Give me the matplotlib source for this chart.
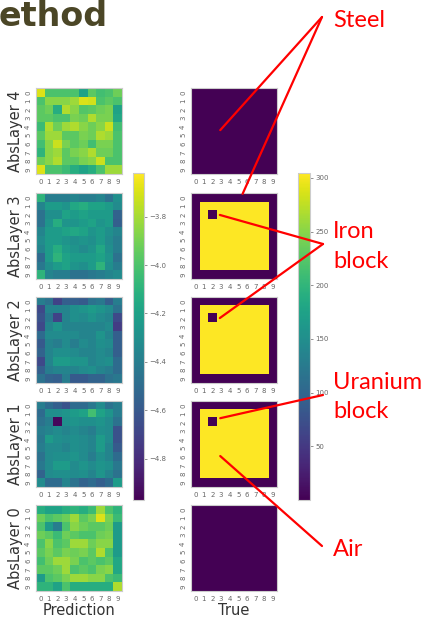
import matplotlib
matplotlib.use("Agg")
from matplotlib import pyplot as plt
from matplotlib.patches import ConnectionPatch
import numpy as np

W, H = 427, 617

layer_names = ["AbsLayer 4", "AbsLayer 3", "AbsLayer 2", "AbsLayer 1", "AbsLayer 0"]
tick_labels = [str(i) for i in range(10)]

# predicted values (log scale)
pred_layer4 = [
    [-3.69, -4.00, -4.00, -4.00, -4.00, -4.19, -3.96, -4.03, -4.00, -3.92],
    [-4.00, -3.86, -3.86, -3.86, -3.82, -3.69, -3.71, -4.00, -3.96, -4.00],
    [-3.96, -3.92, -4.13, -3.78, -3.86, -3.98, -3.96, -3.92, -3.89, -4.19],
    [-3.96, -3.96, -4.00, -4.00, -3.89, -3.92, -3.78, -3.89, -3.89, -4.16],
    [-4.05, -3.78, -3.92, -3.82, -3.78, -3.86, -3.92, -3.86, -3.73, -4.03],
    [-3.96, -3.82, -3.82, -3.96, -3.96, -3.89, -3.92, -3.78, -3.82, -4.00],
    [-4.03, -3.86, -3.73, -3.89, -3.96, -3.92, -4.03, -3.89, -3.89, -4.00],
    [-4.09, -3.86, -3.82, -3.96, -3.89, -3.86, -3.78, -3.92, -3.92, -4.00],
    [-3.92, -3.86, -3.78, -3.96, -3.96, -3.89, -3.86, -3.73, -4.00, -4.00],
    [-3.69, -4.00, -4.00, -4.05, -4.13, -4.19, -4.13, -4.00, -3.82, -3.82],
]
pred_layer3 = [
    [-4.09, -4.40, -4.40, -4.40, -4.36, -4.40, -4.40, -4.36, -4.46, -4.30],
    [-4.36, -4.23, -4.23, -4.27, -4.16, -4.13, -4.19, -4.19, -4.23, -4.32],
    [-4.46, -4.30, -4.30, -4.19, -4.23, -4.19, -4.23, -4.23, -4.23, -4.54],
    [-4.46, -4.27, -4.13, -4.27, -4.27, -4.23, -4.19, -4.27, -4.23, -4.56],
    [-4.36, -4.23, -4.23, -4.19, -4.16, -4.19, -4.27, -4.23, -4.30, -4.36],
    [-4.32, -4.23, -4.23, -4.27, -4.30, -4.27, -4.30, -4.23, -4.32, -4.40],
    [-4.36, -4.23, -4.13, -4.23, -4.27, -4.32, -4.27, -4.16, -4.30, -4.40],
    [-4.50, -4.23, -4.09, -4.19, -4.23, -4.23, -4.23, -4.19, -4.27, -4.46],
    [-4.43, -4.30, -4.23, -4.19, -4.27, -4.30, -4.23, -4.09, -4.30, -4.40],
    [-4.09, -4.36, -4.40, -4.40, -4.46, -4.46, -4.43, -4.40, -4.36, -4.32],
]
pred_layer2 = [
    [-4.40, -4.46, -4.70, -4.56, -4.56, -4.59, -4.46, -4.43, -4.56, -4.40],
    [-4.67, -4.36, -4.36, -4.36, -4.30, -4.27, -4.23, -4.27, -4.32, -4.46],
    [-4.63, -4.43, -4.70, -4.36, -4.30, -4.32, -4.27, -4.32, -4.36, -4.67],
    [-4.67, -4.36, -4.27, -4.36, -4.36, -4.36, -4.36, -4.36, -4.32, -4.73],
    [-4.50, -4.32, -4.32, -4.32, -4.32, -4.36, -4.36, -4.27, -4.36, -4.56],
    [-4.59, -4.36, -4.40, -4.32, -4.40, -4.32, -4.36, -4.30, -4.32, -4.56],
    [-4.54, -4.36, -4.30, -4.30, -4.32, -4.36, -4.36, -4.32, -4.36, -4.56],
    [-4.67, -4.36, -4.23, -4.23, -4.27, -4.27, -4.36, -4.32, -4.30, -4.50],
    [-4.56, -4.40, -4.36, -4.36, -4.36, -4.32, -4.30, -4.36, -4.40, -4.50],
    [-4.46, -4.54, -4.56, -4.40, -4.59, -4.59, -4.54, -4.54, -4.46, -4.43],
]
pred_layer1 = [
    [-4.40, -4.50, -4.56, -4.63, -4.50, -4.50, -4.43, -4.32, -4.46, -4.40],
    [-4.50, -4.30, -4.30, -4.27, -4.23, -4.19, -4.03, -4.19, -4.27, -4.40],
    [-4.46, -4.40, -4.94, -4.30, -4.27, -4.30, -4.30, -4.27, -4.32, -4.46],
    [-4.40, -4.36, -4.32, -4.36, -4.32, -4.36, -4.40, -4.30, -4.32, -4.63],
    [-4.43, -4.23, -4.30, -4.32, -4.30, -4.32, -4.36, -4.23, -4.32, -4.63],
    [-4.40, -4.32, -4.32, -4.36, -4.30, -4.32, -4.36, -4.23, -4.36, -4.59],
    [-4.46, -4.32, -4.30, -4.30, -4.27, -4.32, -4.40, -4.30, -4.36, -4.50],
    [-4.43, -4.32, -4.23, -4.23, -4.32, -4.27, -4.32, -4.27, -4.30, -4.43],
    [-4.54, -4.32, -4.30, -4.30, -4.32, -4.30, -4.36, -4.27, -4.36, -4.46],
    [-4.32, -4.50, -4.50, -4.36, -4.46, -4.54, -4.50, -4.56, -4.50, -4.23],
]
pred_layer0 = [
    [-4.13, -4.19, -4.19, -4.13, -4.09, -4.13, -4.05, -3.82, -4.00, -4.09],
    [-3.92, -4.00, -3.96, -3.92, -3.82, -3.96, -3.89, -3.69, -3.89, -4.05],
    [-4.00, -4.23, -4.40, -4.00, -3.86, -3.92, -3.96, -3.96, -3.92, -4.23],
    [-3.92, -3.96, -4.05, -3.92, -3.96, -4.00, -4.00, -3.92, -3.89, -4.23],
    [-4.00, -3.86, -4.00, -3.96, -3.82, -3.82, -3.92, -3.86, -3.86, -4.23],
    [-3.96, -3.89, -3.96, -3.89, -3.92, -3.89, -3.96, -3.78, -4.00, -4.23],
    [-4.03, -3.92, -3.82, -3.82, -3.89, -4.00, -3.96, -4.00, -3.96, -4.16],
    [-3.96, -3.96, -3.92, -3.82, -4.00, -3.96, -4.00, -3.89, -3.86, -4.16],
    [-4.23, -4.00, -3.96, -3.89, -3.82, -3.82, -3.86, -3.86, -4.00, -4.05],
    [-4.09, -4.09, -4.19, -4.00, -4.13, -4.13, -4.13, -4.13, -4.13, -3.78],
]
pred_range = (-4.97, -3.62)
pred_ticks = [-3.8, -4.0, -4.2, -4.4, -4.6, -4.8]

# true radiation lengths (m) per material, and material maps per layer
x0 = {"S": 0.0176, "I": 0.0176, "U": 0.0032, "A": 303.9}
true_layer4 = ["SSSSSSSSSS"] * 10
true_layer3 = ["SSSSSSSSSS", "SAAAAAAAAS", "SAIAAAAAAS"] + ["SAAAAAAAAS"] * 6 + ["SSSSSSSSSS"]
true_layer2 = ["SSSSSSSSSS", "SAAAAAAAAS", "SAIAAAAAAS"] + ["SAAAAAAAAS"] * 6 + ["SSSSSSSSSS"]
true_layer1 = ["SSSSSSSSSS", "SAAAAAAAAS", "SAUAAAAAAS"] + ["SAAAAAAAAS"] * 6 + ["SSSSSSSSSS"]
true_layer0 = ["SSSSSSSSSS"] * 10
true_range = (0.0, 304.6)
true_ticks = [50, 100, 150, 200, 250, 300]

preds = [pred_layer4, pred_layer3, pred_layer2, pred_layer1, pred_layer0]
trues = [true_layer4, true_layer3, true_layer2, true_layer1, true_layer0]


def rect(x, y, w, h):
    # pixel box (from top-left) -> figure fraction
    return [x / W, 1 - (y + h) / H, w / W, h / H]


def fig_xy(x, y):
    return (x / W, 1 - y / H)


def style_heatmap(ax):
    ax.set_xticks(range(10))
    ax.set_yticks(range(10))
    ax.set_xticklabels(tick_labels, fontsize=5, color="#666666")
    ax.set_yticklabels(tick_labels, fontsize=5, color="#666666", rotation=90, va="center")
    ax.tick_params(length=0, pad=3.5)
    for s in ax.spines.values():
        s.set_color("#cccccc")
        s.set_linewidth(0.8)


fig = plt.figure(figsize=(W / 100, H / 100), dpi=100)

tops = [88, 193, 297, 401, 505]
left_axes, right_axes = [], []
for i, top in enumerate(tops):
    axl = fig.add_axes(rect(36, top, 86, 86))
    im_pred = axl.imshow(np.array(preds[i]), cmap="viridis", vmin=pred_range[0], vmax=pred_range[1],
                         aspect="auto", interpolation="nearest")
    style_heatmap(axl)
    axl.set_ylabel(layer_names[i], fontsize=10.5, color="#333333", labelpad=1.5)
    left_axes.append(axl)

    axr = fig.add_axes(rect(191, top, 86, 86))
    grid = np.array([[x0[c] for c in row] for row in trues[i]])
    im_true = axr.imshow(grid, cmap="viridis", vmin=true_range[0], vmax=true_range[1],
                         aspect="auto", interpolation="nearest")
    style_heatmap(axr)
    right_axes.append(axr)

left_axes[-1].set_xlabel("Prediction", fontsize=10.5, color="#333333", labelpad=1)
right_axes[-1].set_xlabel("True", fontsize=10.5, color="#333333", labelpad=1)

for box, im, ticks in [((133, 173, 11, 327), im_pred, pred_ticks), ((298, 173, 12, 327), im_true, true_ticks)]:
    cax = fig.add_axes(rect(*box))
    cb = fig.colorbar(im, cax=cax, ticks=ticks)
    cb.outline.set_edgecolor("#cccccc")
    cb.outline.set_linewidth(0.8)
    cax.tick_params(labelsize=5, colors="#666666", length=2, width=0.5, pad=2)

# slide title (cropped)
fig.text(fig_xy(-1, 0)[0], fig_xy(0, 26)[1], "ethod", fontsize=24, fontweight="bold",
         color="#4b4626", va="baseline", ha="left")

# red annotations
red = "#ff0000"
ann_font = dict(fontsize=17, color=red, family=["Lato", "DejaVu Sans"], ha="left", va="baseline")
fig.text(*fig_xy(333, 27), "Steel", **ann_font)
fig.text(*fig_xy(333, 238), "Iron", **ann_font)
fig.text(*fig_xy(333, 268), "block", **ann_font)
fig.text(*fig_xy(333, 389), "Uranium", **ann_font)
fig.text(*fig_xy(333, 418), "block", **ann_font)
fig.text(*fig_xy(333, 556), "Air", **ann_font)

links = [
    ((322, 17), right_axes[0], (2.9, 4.4)),
    ((322, 17), right_axes[1], (5.5, -0.4)),
    ((323, 244), right_axes[1], (2.85, 2.05)),
    ((323, 244), right_axes[2], (2.85, 1.95)),
    ((323, 395), right_axes[3], (2.9, 1.5)),
    ((322, 546), right_axes[3], (2.9, 5.9)),
]
for start, ax, end in links:
    con = ConnectionPatch(xyA=fig_xy(*start), coordsA=fig.transFigure, xyB=end, coordsB=ax.transData,
                          color=red, lw=1.6)
    fig.add_artist(con)

fig.savefig("out.png", dpi=100)
